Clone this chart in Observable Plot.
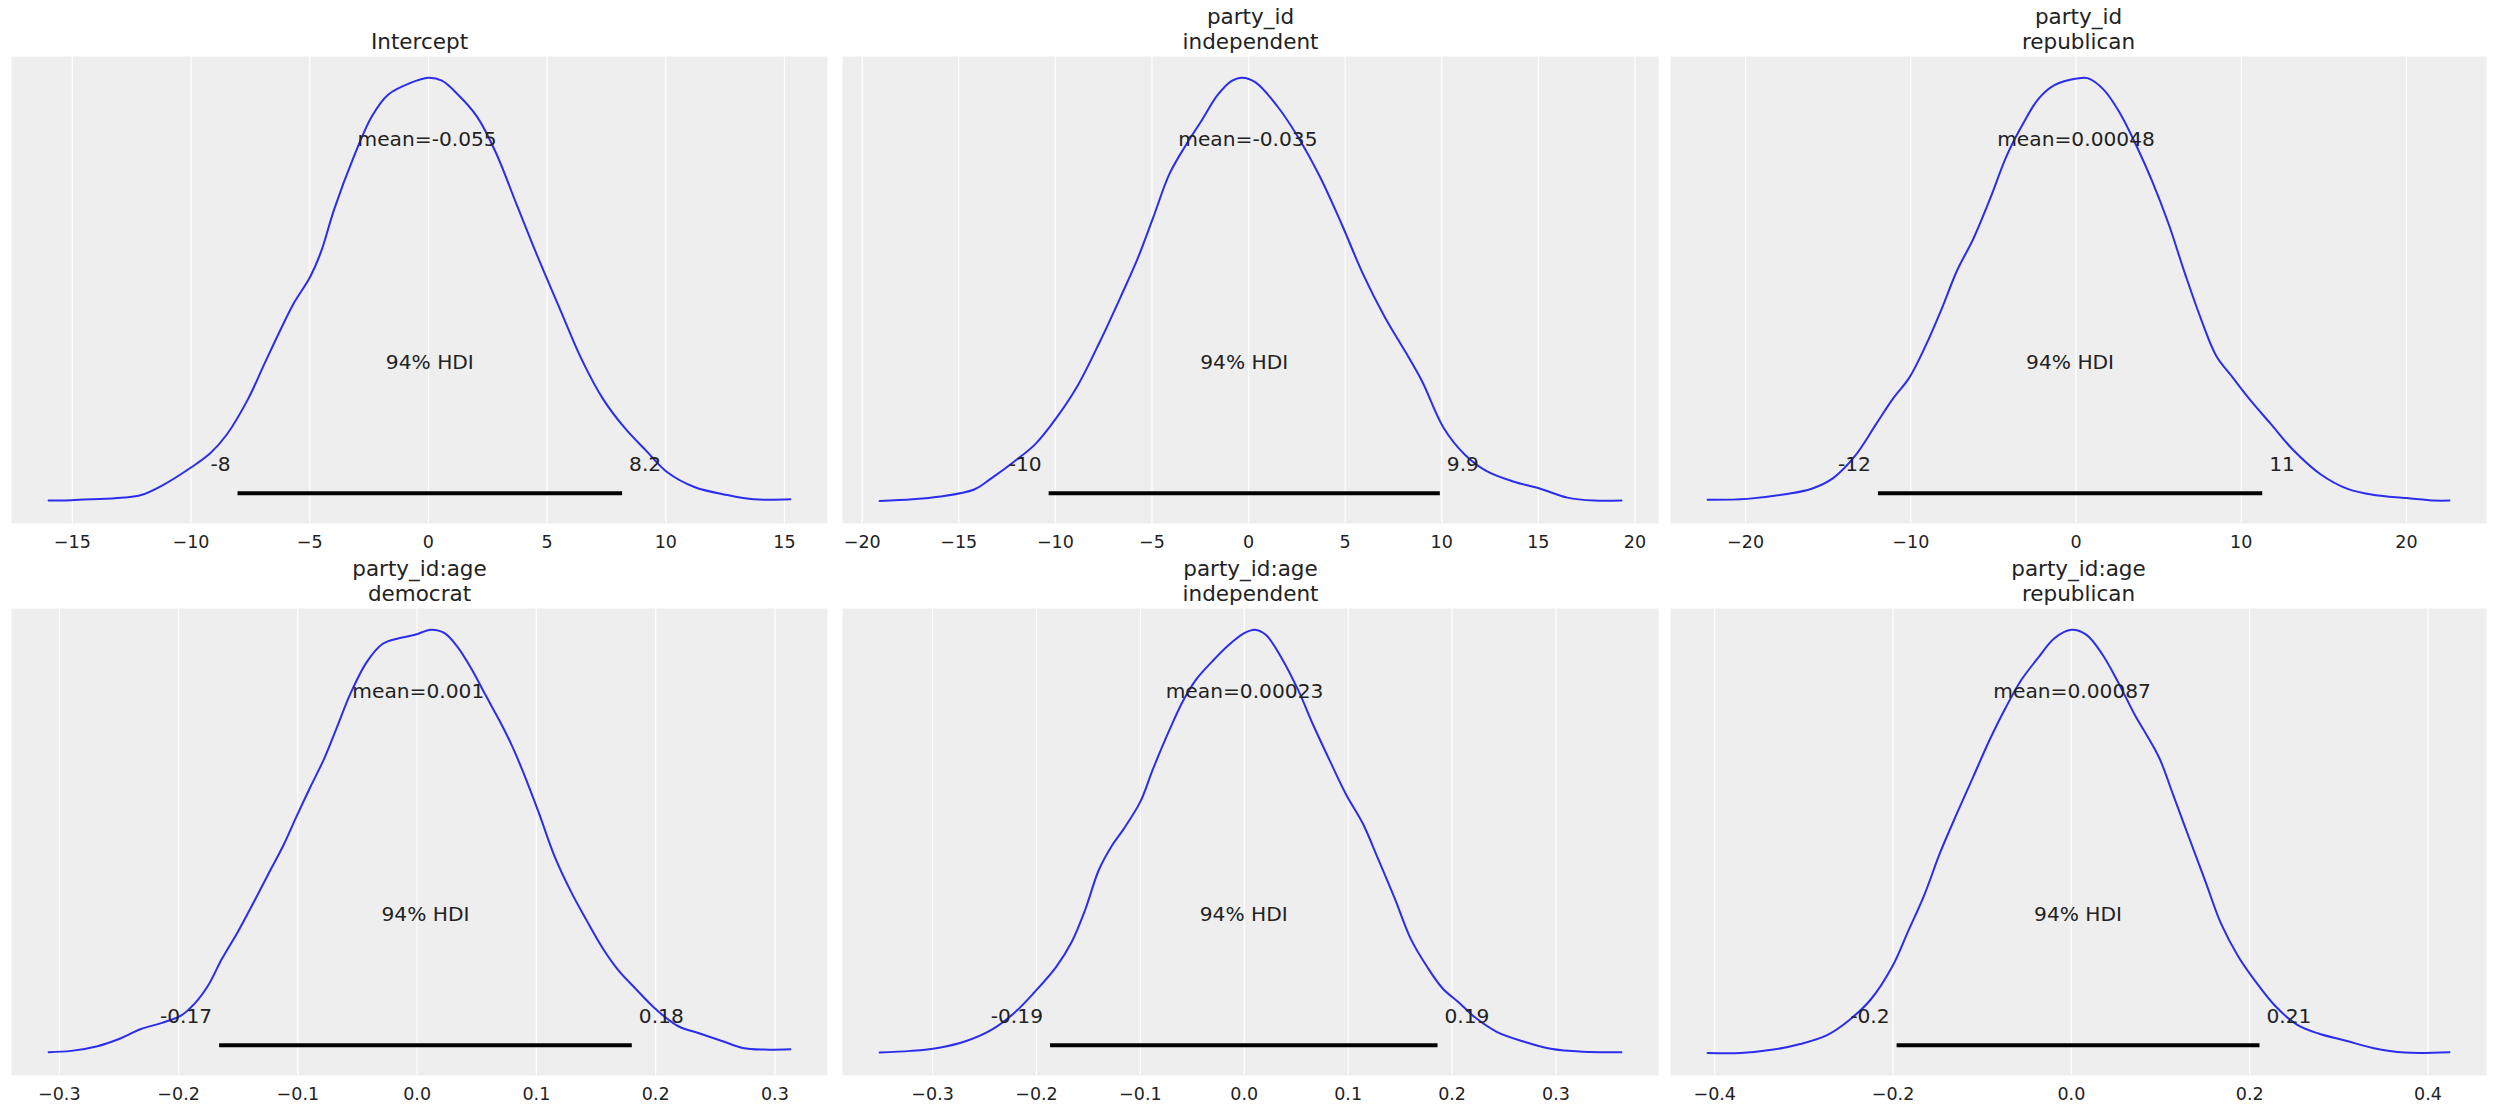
<!DOCTYPE html>
<html><head><meta charset="utf-8">
<script src="https://cdn.jsdelivr.net/npm/d3@7"></script>
<script src="https://cdn.jsdelivr.net/npm/@observablehq/plot@0.6"></script>
<style>
body{margin:0;background:#fff;}
#root{position:relative;width:2495px;height:1112px;overflow:hidden;background:#fff;}
#root svg{position:absolute;}
</style></head><body><div id="root"></div>
<script>
// ---- data (density normalized to peak = 1) ----
const titles = ["Intercept", "party_id\nindependent", "party_id\nrepublican",
                "party_id:age\ndemocrat", "party_id:age\nindependent", "party_id:age\nrepublican"];
const meanValues = [-0.055, -0.035, 0.00048, 0.001, 0.00023, 0.00087];
const meanLabels = ["mean=-0.055", "mean=-0.035", "mean=0.00048", "mean=0.001", "mean=0.00023", "mean=0.00087"];
const hdiLow  = [-8.04, -10.35, -11.99, -0.166, -0.187, -0.196];
const hdiHigh = [8.16, 9.9, 11.27, 0.18, 0.186, 0.211];
const hdiLowLabels  = ["-8", "-10", "-12", "-0.17", "-0.19", "-0.2"];
const hdiHighLabels = ["8.2", "9.9", "11", "0.18", "0.19", "0.21"];
const hdiText = "94% HDI";

const ticks1 = [-15, -10, -5, 0, 5, 10, 15];
const ticks2 = [-20, -15, -10, -5, 0, 5, 10, 15, 20];
const ticks3 = [-20, -10, 0, 10, 20];
const ticks4 = [-0.3, -0.2, -0.1, 0.0, 0.1, 0.2, 0.3];
const ticks5 = [-0.3, -0.2, -0.1, 0.0, 0.1, 0.2, 0.3];
const ticks6 = [-0.4, -0.2, 0.0, 0.2, 0.4];
const tickFormats = ["d", "d", "d", ".1f", ".1f", ".1f"];

const intercept_x = [-16.0,-15.07,-12.8,-12.1,-11.2,-9.97,-9.18,-8.5,-7.6,-6.9,-6.2,-5.66,-4.99,-4.53,-3.97,-3.17,-2.38,-1.7,-0.79,0,0.57,1.25,2.04,2.83,3.74,4.65,5.55,6.46,7.36,8.27,9.18,10.08,11.2,12.6,13.7,15.25];
const intercept_d = [0.004,0.005,0.011,0.017,0.04,0.083,0.116,0.159,0.243,0.327,0.41,0.47,0.53,0.589,0.69,0.81,0.909,0.96,0.987,1.0,0.993,0.96,0.909,0.825,0.698,0.572,0.454,0.336,0.243,0.175,0.121,0.07,0.036,0.017,0.007,0.007];

const pidInd_x = [-19.1,-17.4,-16.05,-14.2,-13.3,-12.16,-11.04,-9.93,-8.82,-7.7,-6.59,-5.76,-4.92,-4.09,-3.25,-2.42,-1.59,-0.89,-0.33,0.36,1.47,2.59,3.7,4.81,5.92,7.04,8.15,8.98,10.1,11.2,12.3,13.7,15.1,16.5,17.9,19.3];
const pidInd_d = [0.003,0.007,0.013,0.03,0.057,0.095,0.137,0.2,0.277,0.378,0.487,0.572,0.673,0.774,0.841,0.9,0.96,0.992,1.0,0.989,0.934,0.858,0.766,0.656,0.538,0.437,0.352,0.285,0.175,0.112,0.074,0.049,0.032,0.011,0.004,0.004];

const pidRep_x = [-22.3,-19.9,-17.6,-16.0,-14.7,-13.4,-12.1,-11.1,-10.1,-9.1,-8.15,-7.2,-6.2,-5.2,-4.2,-3.2,-2.26,-1.28,0.05,0.7,1.67,2.65,3.64,4.6,5.6,6.6,7.6,8.5,9.5,10.5,11.8,13.1,14.8,16.4,18.05,20.0,21.7,22.6];
const pidRep_d = [0.006,0.008,0.019,0.032,0.057,0.108,0.184,0.243,0.293,0.369,0.454,0.546,0.622,0.715,0.816,0.892,0.951,0.983,0.998,0.999,0.972,0.917,0.841,0.757,0.656,0.538,0.428,0.344,0.293,0.243,0.184,0.125,0.066,0.032,0.017,0.01,0.004,0.004];

const ageDem_x = [-0.309,-0.29,-0.268,-0.25,-0.232,-0.214,-0.198,-0.186,-0.175,-0.164,-0.15,-0.137,-0.123,-0.112,-0.101,-0.0896,-0.078,-0.067,-0.056,-0.042,-0.0288,-0.0153,-0.0018,0.0117,0.023,0.034,0.0455,0.0568,0.07,0.079,0.088,0.102,0.115,0.129,0.142,0.156,0.169,0.183,0.201,0.219,0.237,0.255,0.273,0.291,0.313];
const ageDem_d = [0.005,0.008,0.019,0.036,0.059,0.074,0.091,0.121,0.163,0.223,0.29,0.358,0.434,0.493,0.561,0.629,0.696,0.772,0.849,0.925,0.967,0.98,0.988,1.0,0.992,0.959,0.908,0.849,0.781,0.73,0.671,0.569,0.468,0.383,0.316,0.248,0.197,0.155,0.104,0.066,0.049,0.032,0.015,0.011,0.012];

const ageInd_x = [-0.351,-0.321,-0.295,-0.269,-0.243,-0.222,-0.202,-0.181,-0.166,-0.153,-0.14,-0.127,-0.116,-0.1,-0.088,-0.072,-0.059,-0.0466,-0.031,-0.0155,0,0.0103,0.0207,0.036,0.052,0.067,0.083,0.098,0.114,0.129,0.145,0.16,0.176,0.191,0.207,0.222,0.243,0.269,0.295,0.326,0.363];
const ageInd_d = [0.004,0.008,0.015,0.03,0.058,0.096,0.146,0.206,0.265,0.341,0.434,0.493,0.531,0.595,0.671,0.764,0.832,0.882,0.925,0.963,0.992,1.0,0.988,0.933,0.857,0.772,0.688,0.612,0.544,0.459,0.366,0.273,0.206,0.155,0.121,0.087,0.053,0.03,0.013,0.006,0.005];

const ageRep_x = [-0.408,-0.371,-0.334,-0.304,-0.274,-0.25,-0.225,-0.201,-0.183,-0.165,-0.147,-0.128,-0.11,-0.092,-0.074,-0.056,-0.0376,-0.019,0,0.017,0.035,0.053,0.0715,0.0836,0.099,0.114,0.132,0.15,0.168,0.187,0.205,0.229,0.253,0.277,0.308,0.338,0.374,0.424];
const ageRep_d = [0.003,0.003,0.011,0.024,0.045,0.079,0.129,0.206,0.29,0.375,0.476,0.569,0.654,0.739,0.815,0.882,0.933,0.98,1.0,0.988,0.941,0.874,0.798,0.755,0.696,0.612,0.51,0.409,0.307,0.231,0.176,0.113,0.07,0.049,0.032,0.015,0.004,0.005];

// ---- layout ----
const xs = [intercept_x, pidInd_x, pidRep_x, ageDem_x, ageInd_x, ageRep_x];
const ds = [intercept_d, pidInd_d, pidRep_d, ageDem_d, ageInd_d, ageRep_d];
const tickSets = [ticks1, ticks2, ticks3, ticks4, ticks5, ticks6];
const lefts = [11, 842, 1670];
const tops = [0, 552];
const panelW = 816, innerH = 467, mTop = 56;
const bottoms = [29, 37];

const root = document.getElementById("root");
const font = "DejaVu Sans";
const ink = "#222222";

for (let i = 0; i < 6; i++) {
  const row = Math.floor(i / 3), col = i % 3;
  const data = xs[i].map((x, k) => ({x, d: ds[i][k]}));
  const ext = d3.extent(xs[i]);
  const pad = (ext[1] - ext[0]) * 0.05;
  const lo = hdiLow[i], hi = hdiHigh[i];
  const yHdi = 0.02 * 1.05, yLab = 0.07 * 1.05, yHdiTxt = 0.3 * 1.05, yMean = 0.8 * 1.05;
  const chart = Plot.plot({
    width: panelW,
    height: mTop + innerH + bottoms[row],
    marginLeft: 0, marginRight: 0, marginTop: mTop, marginBottom: bottoms[row],
    style: {background: "transparent", fontFamily: font, fontSize: "17.5px", color: ink, overflow: "visible"},
    x: {domain: [ext[0] - pad, ext[1] + pad], ticks: tickSets[i], tickFormat: d3.format(tickFormats[i]),
        tickSize: 0, tickPadding: 12, label: null},
    y: {domain: [-0.05, 1.05], axis: null},
    marks: [
      Plot.frame({fill: "#eeeeee", stroke: null}),
      Plot.gridX(tickSets[i], {stroke: "#ffffff", strokeOpacity: 1, strokeWidth: 1.2}),
      Plot.line(data, {x: "x", y: "d", stroke: "#2a2eec", strokeWidth: 2, curve: "catmull-rom"}),
      Plot.line([{x: lo, y: yHdi}, {x: hi, y: yHdi}], {x: "x", y: "y", stroke: "#000000", strokeWidth: 4, strokeLinecap: "butt"}),
      Plot.text([hdiLowLabels[i]], {x: lo, y: yLab, text: d => d, textAnchor: "end", dx: -7, lineAnchor: "bottom", fontSize: 20.2, fill: ink}),
      Plot.text([hdiHighLabels[i]], {x: hi, y: yLab, text: d => d, textAnchor: "start", dx: 7, lineAnchor: "bottom", fontSize: 20.2, fill: ink}),
      Plot.text([hdiText], {x: (lo + hi) / 2, y: yHdiTxt, text: d => d, textAnchor: "middle", lineAnchor: "bottom", fontSize: 20.2, fill: ink}),
      Plot.text([meanLabels[i]], {x: meanValues[i], y: yMean, text: d => d, textAnchor: "middle", lineAnchor: "bottom", fontSize: 20.2, fill: ink}),
      Plot.text([titles[i]], {frameAnchor: "top", text: d => d, dy: -8, lineAnchor: "bottom", lineHeight: 1.12, fontSize: 21.5, fill: ink})
    ]
  });
  chart.style.left = lefts[col] + "px";
  chart.style.top = tops[row] + "px";
  root.appendChild(chart);
}
</script></body></html>
